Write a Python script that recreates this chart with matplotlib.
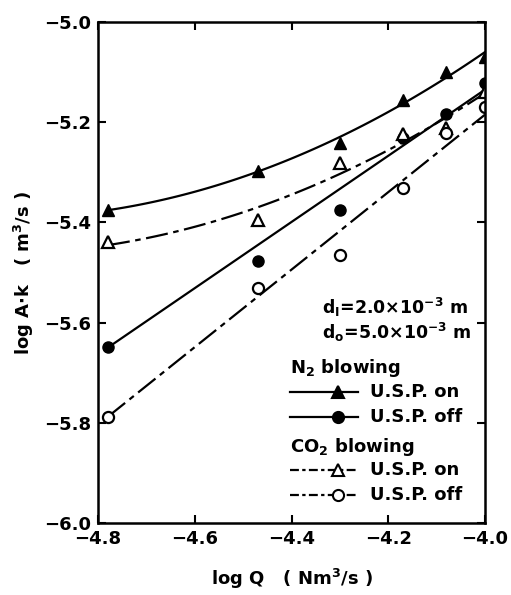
import numpy as np
import matplotlib
matplotlib.use("Agg")
import matplotlib.pyplot as plt
from matplotlib.ticker import FuncFormatter

# log Q values (Nm3/s) where measurements were taken
logQ = [-4.78, -4.47, -4.30, -4.17, -4.08, -4.00]

# log A*k (m3/s)
n2_on = [-5.375, -5.297, -5.241, -5.156, -5.099, -5.070]
n2_off = [-5.648, -5.478, -5.375, -5.232, -5.184, -5.122]
co2_on = [-5.440, -5.395, -5.281, -5.224, -5.212, -5.139]
co2_off = [-5.788, -5.530, -5.465, -5.332, -5.222, -5.170]

# straight fit lines for the "off" runs (ends)
fit_x = [-4.78, -4.00]
n2_off_fit = [-5.650, -5.135]
co2_off_fit = [-5.788, -5.185]

xticks = [-4.8, -4.6, -4.4, -4.2, -4.0]
yticks = [-6.0, -5.8, -5.6, -5.4, -5.2, -5.0]

plt.rcParams['font.family'] = ['DejaVu Sans']
plt.rcParams['font.weight'] = 'bold'
plt.rcParams['axes.labelweight'] = 'bold'
plt.rcParams['mathtext.default'] = 'bf'
dashdot = (10, 2.5, 2.5, 2.5)

fig = plt.figure(figsize=(5.11, 5.95), dpi=100)
ax = fig.add_axes([0.192, 0.121, 0.757, 0.842])

xs = np.linspace(logQ[0], logQ[-1], 100)

def fitcurve(y): #quadratic fit for the U.S.P. on curves
  p = np.polyfit(logQ, y, 2)
  return np.polyval(p, xs)

# N2 blowing -> solid, CO2 blowing -> dash-dot
ax.plot(xs, fitcurve(n2_on), color="black", lw=1.6)
ax.plot(fit_x, n2_off_fit, color="black", lw=1.6)
ax.plot(xs, fitcurve(co2_on), color="black", lw=1.6, dashes=dashdot)
ax.plot(fit_x, co2_off_fit, color="black", lw=1.6, dashes=dashdot)

ax.plot(logQ, n2_on, linestyle="none", marker="^", ms=9, color="black")
ax.plot(logQ, n2_off, linestyle="none", marker="o", ms=8, color="black")
ax.plot(logQ, co2_on, linestyle="none", marker="^", ms=9, mfc="white", mec="black", mew=1.6)
ax.plot(logQ, co2_off, linestyle="none", marker="o", ms=8, mfc="white", mec="black", mew=1.6)

ax.set_xlim(-4.8, -4.0)
ax.set_ylim(-6.0, -5.0)
ax.set_xticks(xticks)
ax.set_yticks(yticks)
fmt = FuncFormatter(lambda v, p: ("%.1f" % v).replace("-", "\u2212"))
ax.xaxis.set_major_formatter(fmt)
ax.yaxis.set_major_formatter(fmt)
ax.tick_params(direction="in", length=6, width=1.5, top=True, right=True, labelsize=13)
ax.tick_params(axis="x", pad=5)
ax.tick_params(axis="y", pad=5)
for s in ax.spines.values():
  s.set_linewidth(1.8)

ax.set_xlabel("log Q   ( Nm$^3$/s )", fontsize=13, labelpad=14)
ax.set_ylabel("log A$\\cdot$k   ( m$^3$/s )", fontsize=13, labelpad=6)

# nozzle diameters
ax.text(-4.337, -5.569, "d$_\\mathrm{I}$=2.0\u00d710$^{-3}$ m", fontsize=12.5, va="center")
ax.text(-4.337, -5.619, "d$_\\mathrm{o}$=5.0\u00d710$^{-3}$ m", fontsize=12.5, va="center")

# hand-made legend
lx0, lx1, lmk, ltx = -4.403, -4.263, -4.304, -4.238
ax.text(lx0, -5.691, "N$_2$ blowing", fontsize=13, va="center")
ax.text(lx0, -5.848, "CO$_2$ blowing", fontsize=13, va="center")
rows = [(-5.739, "^", "black", None, "U.S.P. on"),
        (-5.788, "o", "black", None, "U.S.P. off"),
        (-5.894, "^", "white", dashdot, "U.S.P. on"),
        (-5.944, "o", "white", dashdot, "U.S.P. off")]
for y, mk, fc, ds, lab in rows:
  if ds is None:
    ax.plot([lx0, lx1], [y, y], color="black", lw=1.6)
  else:
    ax.plot([lx0, lx1], [y, y], color="black", lw=1.6, dashes=(4, 1.5, 1.5, 1.5))
  ax.plot([lmk], [y], marker=mk, ms=8, mfc=fc, mec="black", mew=1.5, linestyle="none")
  ax.text(ltx, y, lab, fontsize=13, va="center")

fig.savefig("out.png", dpi=100)
